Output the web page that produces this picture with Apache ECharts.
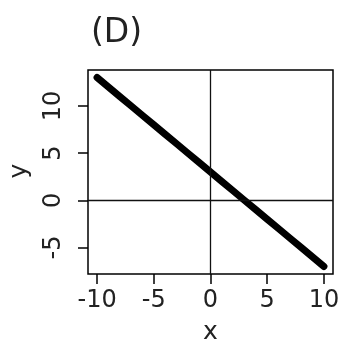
<!DOCTYPE html>
<html>
<head>
<meta charset="utf-8">
<script src="https://cdn.jsdelivr.net/npm/echarts@6/dist/echarts.min.js"></script>
<style>html,body{margin:0;padding:0;background:#fff;}#c{width:339px;height:349px;}</style>
</head>
<body>
<div id="c"></div>
<script>
const titleText = "(D)";
const xName = "x";
const yName = "y";
const xValues = [-10,-9,-8,-7,-6,-5,-4,-3,-2,-1,0,1,2,3,4,5,6,7,8,9,10];
const yValues = [13,12,11,10,9,8,7,6,5,4,3,2,1,0,-1,-2,-3,-4,-5,-6,-7];
const xTicks = [-10,-5,0,5,10];
const yTicks = [-5,0,5,10];
const refLines = [0];

const chart = echarts.init(document.getElementById('c'), null, {renderer:'canvas'});
const font = 'DejaVu Sans';
const txt = '#222';
chart.setOption({
  animation:false,
  backgroundColor:'#fff',
  title:{text:titleText,left:86,top:12,textStyle:{fontFamily:font,fontSize:33,fontWeight:'normal',color:txt}},
  grid:{left:88,right:6,top:70,bottom:75,show:true,borderColor:'#000',borderWidth:1.5,backgroundColor:'transparent',outerBoundsMode:'none',containLabel:false},
  xAxis:{type:'value',min:-10.8,max:10.8,
    name:xName,nameLocation:'middle',nameGap:46,nameTextStyle:{fontFamily:font,fontSize:25,color:txt},
    axisLine:{show:false,onZero:false},splitLine:{show:false},
    axisTick:{show:true,inside:false,length:10,customValues:xTicks,lineStyle:{color:'#000',width:1.5}},
    axisLabel:{customValues:xTicks,margin:15,fontFamily:font,fontSize:24,color:txt}},
  yAxis:{type:'value',min:-7.8,max:13.8,
    axisLine:{show:false,onZero:false},splitLine:{show:false},
    axisTick:{show:true,inside:false,length:10,customValues:yTicks,lineStyle:{color:'#000',width:1.5}},
    axisLabel:{customValues:yTicks,rotate:90,margin:22,fontFamily:font,fontSize:24,color:txt}},
  graphic:[{type:'text',x:19,y:171,rotation:Math.PI/2,
    style:{text:yName,fontFamily:font,fontSize:25,fill:txt,align:'center',verticalAlign:'middle'}}],
  series:[{
    type:'line',
    data:xValues.map((x,i)=>[x,yValues[i]]),
    symbol:'none',
    lineStyle:{color:'#000',width:7,cap:'round'},
    markLine:{silent:true,symbol:'none',label:{show:false},
      lineStyle:{color:'#111',width:1.3,type:'solid'},
      data:[{xAxis:refLines[0]},{yAxis:refLines[0]}]}
  }]
});
</script>
</body>
</html>
